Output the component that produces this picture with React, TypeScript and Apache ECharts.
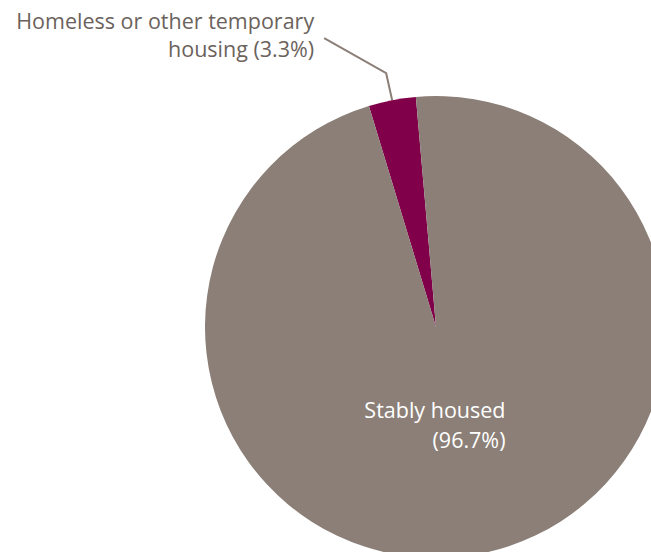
import React, { useEffect, useRef } from "react";
import * as echarts from "echarts";

const categories = ["Homeless or other temporary housing", "Stably housed"];
const values = [3.3, 96.7];
const labelTexts = ["Homeless or other temporary\nhousing (3.3%)", "Stably housed\n(96.7%)"];
const colors = ["#80004a", "#8b7f77"];

export default function App() {
  const ref = useRef<HTMLDivElement>(null);
  useEffect(() => {
    if (!ref.current) return;
    const chart = echarts.init(ref.current, undefined, { renderer: "svg" });
    const data = categories.map((name, i) => ({
      name,
      value: values[i],
      itemStyle: { color: colors[i] },
      label:
        i === 0
          ? {
              show: true,
              position: "outside",
              formatter: labelTexts[0],
              color: "#6b625c",
              fontSize: 21.5,
              lineHeight: 28,
              align: "right",
              fontFamily: "Open Sans",
            }
          : {
              show: true,
              position: "inside",
              formatter: labelTexts[1],
              color: "#ffffff",
              fontSize: 21.5,
              lineHeight: 30,
              align: "right",
              fontFamily: "Open Sans",
            },
      labelLine:
        i === 0
          ? { show: true, length: 27, length2: 60, lineStyle: { color: "#8b7f77", width: 2 } }
          : { show: false },
    }));
    chart.setOption({
      animation: false,
      backgroundColor: "#ffffff",
      series: [
        {
          type: "pie",
          center: [436, 327],
          radius: 231,
          startAngle: 95,
          clockwise: false,
          data,
          labelLayout: (params: any) => {
            if (params.dataIndex === 0) {
              const p0 = params.labelLinePoints ? params.labelLinePoints[0] : [390, 99];
              const p1 = [p0[0] - 6, p0[1] - 27];
              const p2 = [p1[0] - 62, p1[1] - 35];
              return {
                x: p2[0] - 10,
                y: p2[1] - 4,
                align: "right",
                verticalAlign: "middle",
                labelLinePoints: [p0, p1, p2],
              };
            }
            const r = params.labelRect;
            return {
              x: r.x + r.width / 2 + 47,
              y: r.y + r.height / 2 - 19,
              align: "right",
              verticalAlign: "middle",
            };
          },
        },
      ],
    });
    return () => chart.dispose();
  }, []);
  return (
    <div
      ref={ref}
      style={{ position: "fixed", left: 0, top: 0, width: 651, height: 552 }}
    />
  );
}
